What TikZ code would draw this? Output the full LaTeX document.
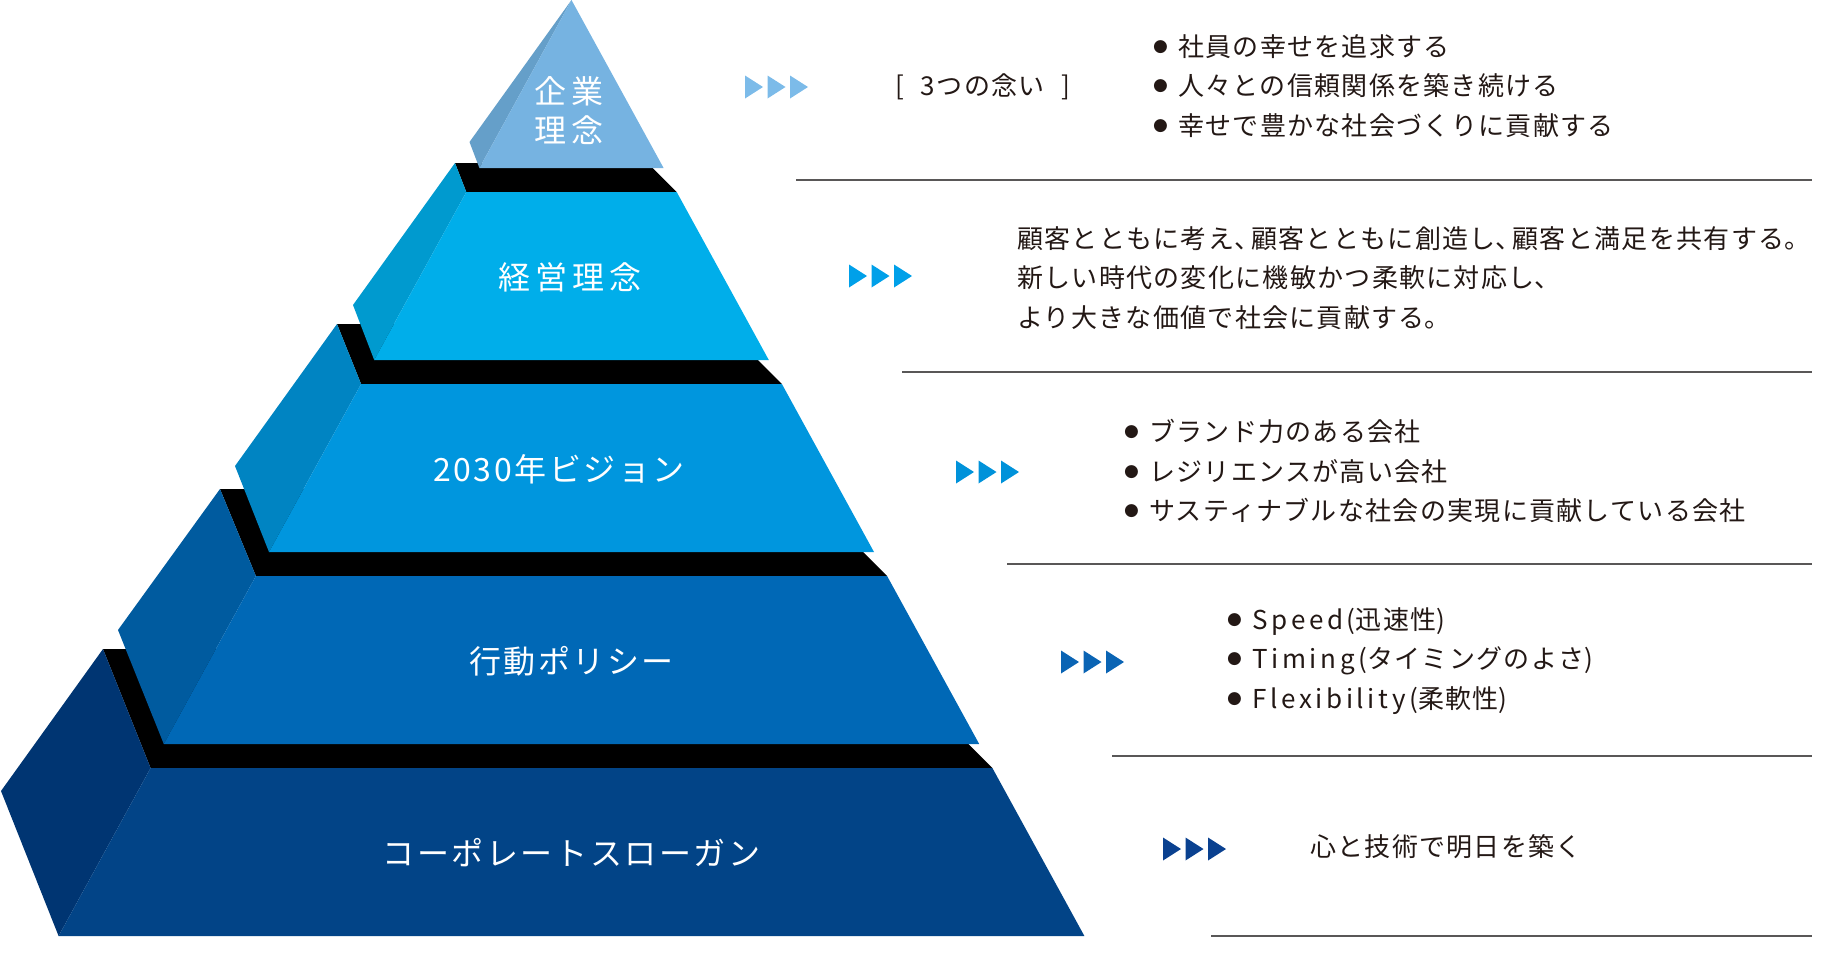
\documentclass[tikz,border=0pt]{standalone}
\usepackage{fontspec}
\setmainfont{Noto Sans CJK JP}[LetterSpace=5]
\newfontfamily\dejavu{DejaVu Sans}
\newfontfamily\jplab[LetterSpace=8]{Noto Sans CJK JP}
\newfontfamily\jplabw[LetterSpace=16]{Noto Sans CJK JP}
\newfontfamily\jplat[LetterSpace=14]{Noto Sans CJK JP}
\newfontfamily\jph[RawFeature=+halt,LetterSpace=5]{Noto Sans CJK JP}
\definecolor{fa}{HTML}{76B3E1}
\definecolor{sa}{HTML}{659FC9}
\definecolor{fb}{HTML}{00AEEA}
\definecolor{sb}{HTML}{009ACF}
\definecolor{fc}{HTML}{0096DE}
\definecolor{sc}{HTML}{0084C2}
\definecolor{fd}{HTML}{0068B6}
\definecolor{sd}{HTML}{005B9F}
\definecolor{fe}{HTML}{024487}
\definecolor{se}{HTML}{003572}
\definecolor{aa}{HTML}{7CBBE9}
\definecolor{ab}{HTML}{00A0E9}
\definecolor{ac}{HTML}{0092DA}
\definecolor{ad}{HTML}{0A64B4}
\definecolor{ae}{HTML}{0A4190}
\definecolor{sepgray}{HTML}{595757}
\definecolor{ink}{HTML}{231815}
\newcommand{\bul}{\makebox[25pt][l]{\raisebox{5pt}{\dejavu\fontsize{17}{17}\selectfont ●}}}
\newcommand{\tk}{{\jph 、}\hspace{4pt}}
\newcommand{\mr}{{\jph 。}}
\newcommand{\lat}[1]{{\jplat #1}}
\newcommand{\tripl}[3]{%
  \foreach \i in {0,1,2}{%
    \fill[#3] ({#1+22.5*\i},{#2-11.5}) -- ({#1+22.5*\i+18},{#2}) -- ({#1+22.5*\i},{#2+11.5}) -- cycle;}}
\begin{document}
\begin{tikzpicture}[x=1pt,y=-1pt,
  txt/.style={anchor=west,align=left,inner sep=0pt,text=ink,font=\fontsize{26}{39.5}\selectfont},
  lab/.style={align=center,inner sep=0pt,text=white,font=\jplab\fontsize{32}{39}\selectfont},
  labw/.style={align=center,inner sep=0pt,text=white,font=\jplabw\fontsize{32}{39}\selectfont},
  sepline/.style={draw=sepgray,line width=1.5pt},
  band/.style={fill=black}]
\useasboundingbox (0,0) rectangle (1840,978);
% ---- tier 5
\fill[band] (103,649) -- (873.4,649) -- (992.4,768) -- (150.6,768) -- cycle;
\fill[se] (103,649) -- (1,791) -- (58.6,936) -- (150.6,768) -- cycle;
\fill[fe] (150.6,768) -- (992.4,768) -- (1084.4,936) -- (58.6,936) -- cycle;
% ---- tier 4
\fill[band] (220,489) -- (800.1,489) -- (887.1,576) -- (255.9,576) -- cycle;
\fill[sd] (220,489) -- (118,630) -- (163.8,744) -- (255.9,576) -- cycle;
\fill[fd] (255.9,576) -- (887.1,576) -- (979.2,744) -- (163.8,744) -- cycle;
% ---- tier 3
\fill[band] (337,324) -- (721.9,324) -- (781.9,384) -- (361.1,384) -- cycle;
\fill[sc] (337,324) -- (235,466) -- (269,552) -- (361.1,384) -- cycle;
\fill[fc] (361.1,384) -- (781.9,384) -- (874,552) -- (269,552) -- cycle;
% ---- tier 2
\fill[band] (455,163) -- (647.7,163) -- (676.7,192) -- (466.3,192) -- cycle;
\fill[sb] (455,163) -- (353,305) -- (374.2,360) -- (466.3,192) -- cycle;
\fill[fb] (466.3,192) -- (676.7,192) -- (768.8,360) -- (374.2,360) -- cycle;
% ---- tier 1
\fill[sa] (571.5,0) -- (469.5,142) -- (479.4,168) -- cycle;
\fill[fa] (571.5,0) -- (663.6,168) -- (479.4,168) -- cycle;
% ---- tier labels
\node[labw] (l1) at (569,111) {企業\\理念};
\node[labw] (l2) at (570,277) {経営理念};
\node[lab] (l3) at (559,469) {2030年ビジョン};
\node[lab] (l4) at (571.5,661) {行動ポリシー};
\node[lab] (l5) at (571.5,853) {コーポレートスローガン};
% ---- arrows
\tripl{745}{87}{aa}
\tripl{849}{276}{ab}
\tripl{956}{472}{ac}
\tripl{1061}{662}{ad}
\tripl{1163}{849}{ae}
% ---- separators
\coordinate (s1a) at (796,180);  \coordinate (s1b) at (1812,180);
\coordinate (s2a) at (902,372);  \coordinate (s2b) at (1812,372);
\coordinate (s3a) at (1007,564); \coordinate (s3b) at (1812,564);
\coordinate (s4a) at (1112,756); \coordinate (s4b) at (1812,756);
\coordinate (s5a) at (1211,936); \coordinate (s5b) at (1812,936);
\draw[sepline] (s1a) -- (s1b);
\draw[sepline] (s2a) -- (s2b);
\draw[sepline] (s3a) -- (s3b);
\draw[sepline] (s4a) -- (s4b);
\draw[sepline] (s5a) -- (s5b);
% ---- texts
\node[txt] (h1) at (895,87) {[\hspace{17pt}3つの念い\hspace{17pt}]};
\node[txt] (t1) at (1153,86) {\bul 社員の幸せを追求する\\\bul 人々との信頼関係を築き続ける\\\bul 幸せで豊かな社会づくりに貢献する};
\node[txt] (t2) at (1017,278) {顧客とともに考え\tk 顧客とともに創造し\tk 顧客と満足を共有する\mr\\新しい時代の変化に機敏かつ柔軟に対応し{\jph 、}\\より大きな価値で社会に貢献する\mr};
\node[txt] (t3) at (1124,471) {\bul ブランド力のある会社\\\bul レジリエンスが高い会社\\\bul サスティナブルな社会の実現に貢献している会社};
\node[txt] (t4) at (1227,661) {\bul \lat{Speed(}迅速性\lat{)}\\\bul \lat{Timing(}タイミングのよさ\lat{)}\\\bul \lat{Flexibility(}柔軟性\lat{)}};
\node[txt] (t5) at (1310,847) {心と技術で明日を築く};
\end{tikzpicture}
\end{document}
